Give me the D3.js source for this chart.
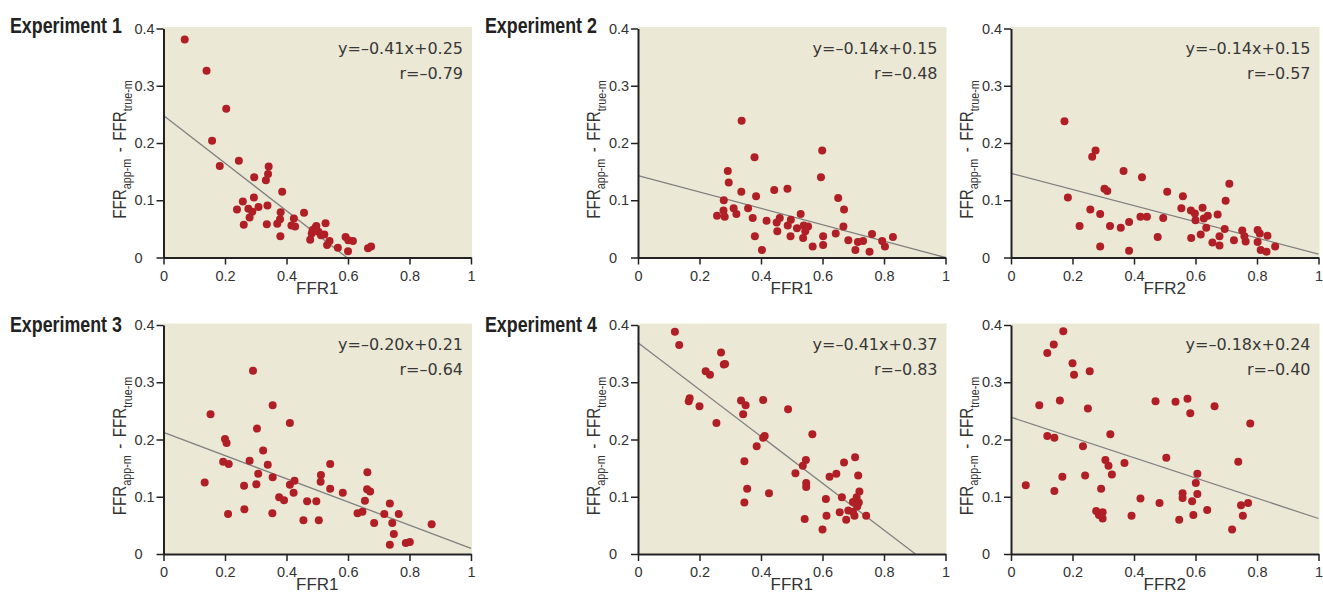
<!DOCTYPE html>
<html>
<head>
<meta charset="utf-8">
<script src="https://cdn.jsdelivr.net/npm/d3@7"></script>
<style>
  body { margin: 0; background: #fff; }
  svg { display: block; }
</style>
</head>
<body>
<svg width="1323" height="594"></svg>
<script>
// values: x = FFR, y = FFRapp-m - FFRtrue-m
var exp1ffr1 = [0.069,0.140,0.204,0.158,0.183,0.245,0.342,0.340,0.333,0.295,0.386,0.294,0.258,0.239,0.276,0.289,0.280,0.309,0.338,0.261,0.336,0.381,0.379,0.370,0.380,0.457,0.424,0.416,0.428,0.527,0.494,0.485,0.482,0.477,0.504,0.512,0.523,0.540,0.532,0.567,0.592,0.601,0.616,0.600,0.665,0.675,0.497];
var exp1diff = [0.381,0.326,0.260,0.204,0.160,0.169,0.159,0.146,0.135,0.140,0.115,0.105,0.098,0.084,0.085,0.080,0.070,0.088,0.091,0.057,0.058,0.079,0.067,0.059,0.037,0.078,0.068,0.056,0.054,0.060,0.052,0.048,0.042,0.031,0.045,0.039,0.040,0.029,0.022,0.017,0.036,0.030,0.029,0.011,0.016,0.019,0.055];

var exp2ffr1 = [0.337,0.379,0.599,0.595,0.292,0.295,0.336,0.384,0.443,0.486,0.651,0.670,0.279,0.278,0.257,0.282,0.311,0.320,0.358,0.373,0.380,0.403,0.418,0.451,0.461,0.453,0.487,0.497,0.496,0.517,0.529,0.539,0.553,0.544,0.537,0.568,0.602,0.602,0.643,0.668,0.684,0.707,0.715,0.732,0.761,0.753,0.794,0.803,0.829];
var exp2diff1 = [0.239,0.175,0.187,0.140,0.151,0.131,0.115,0.107,0.118,0.120,0.104,0.084,0.100,0.082,0.073,0.071,0.086,0.076,0.086,0.069,0.037,0.013,0.064,0.061,0.069,0.046,0.056,0.066,0.037,0.051,0.076,0.056,0.054,0.046,0.034,0.019,0.037,0.022,0.042,0.054,0.030,0.013,0.027,0.029,0.041,0.010,0.029,0.019,0.036];

var exp2ffr2 = [0.174,0.275,0.264,0.366,0.426,0.710,0.304,0.313,0.508,0.185,0.559,0.698,0.258,0.290,0.223,0.322,0.357,0.384,0.290,0.384,0.421,0.442,0.495,0.477,0.554,0.585,0.598,0.623,0.600,0.627,0.640,0.672,0.635,0.617,0.586,0.655,0.678,0.678,0.695,0.725,0.752,0.759,0.763,0.802,0.809,0.802,0.812,0.831,0.834,0.859];
var exp2diff2 = [0.238,0.187,0.176,0.151,0.140,0.129,0.120,0.116,0.115,0.105,0.107,0.099,0.084,0.076,0.055,0.055,0.052,0.062,0.019,0.012,0.071,0.071,0.069,0.036,0.086,0.082,0.077,0.087,0.065,0.068,0.073,0.075,0.052,0.040,0.034,0.026,0.037,0.021,0.050,0.030,0.047,0.037,0.028,0.048,0.042,0.027,0.013,0.010,0.038,0.019];

var exp3ffr1 = [0.291,0.355,0.153,0.411,0.304,0.200,0.205,0.324,0.194,0.212,0.280,0.339,0.542,0.308,0.355,0.512,0.511,0.663,0.134,0.262,0.302,0.411,0.426,0.423,0.542,0.583,0.662,0.672,0.376,0.392,0.467,0.497,0.655,0.736,0.263,0.210,0.354,0.455,0.505,0.631,0.647,0.718,0.765,0.685,0.744,0.872,0.749,0.736,0.788,0.801];
var exp3diff = [0.320,0.260,0.244,0.229,0.219,0.201,0.194,0.181,0.161,0.157,0.163,0.156,0.157,0.140,0.134,0.138,0.126,0.143,0.125,0.119,0.122,0.121,0.128,0.107,0.114,0.107,0.113,0.109,0.099,0.094,0.092,0.092,0.093,0.088,0.078,0.070,0.071,0.059,0.059,0.071,0.074,0.070,0.070,0.054,0.054,0.052,0.035,0.016,0.019,0.021];

var exp4ffr1 = [0.120,0.134,0.270,0.279,0.283,0.220,0.234,0.168,0.165,0.200,0.255,0.335,0.350,0.342,0.407,0.488,0.567,0.412,0.407,0.386,0.346,0.355,0.346,0.426,0.546,0.536,0.512,0.547,0.547,0.542,0.706,0.670,0.645,0.623,0.716,0.720,0.611,0.663,0.711,0.699,0.718,0.713,0.656,0.684,0.699,0.704,0.613,0.677,0.742,0.600];
var exp4diff1 = [0.388,0.365,0.352,0.331,0.332,0.319,0.313,0.272,0.267,0.258,0.229,0.268,0.260,0.244,0.269,0.253,0.209,0.206,0.203,0.188,0.162,0.114,0.090,0.106,0.164,0.154,0.141,0.124,0.117,0.061,0.169,0.160,0.140,0.135,0.137,0.109,0.096,0.099,0.099,0.091,0.090,0.083,0.073,0.076,0.074,0.067,0.067,0.060,0.067,0.043];

var exp4ffr2 = [0.170,0.139,0.118,0.200,0.205,0.256,0.092,0.159,0.250,0.118,0.141,0.234,0.323,0.048,0.167,0.141,0.241,0.307,0.317,0.328,0.369,0.293,0.277,0.286,0.298,0.298,0.392,0.421,0.483,0.470,0.535,0.574,0.583,0.662,0.778,0.505,0.606,0.601,0.558,0.558,0.606,0.589,0.593,0.547,0.638,0.739,0.748,0.771,0.754,0.719];
var exp4diff2 = [0.389,0.366,0.351,0.333,0.313,0.319,0.260,0.268,0.254,0.206,0.203,0.188,0.209,0.120,0.135,0.110,0.137,0.164,0.154,0.139,0.159,0.114,0.075,0.068,0.073,0.062,0.067,0.097,0.089,0.267,0.266,0.271,0.246,0.258,0.228,0.168,0.140,0.124,0.106,0.098,0.105,0.092,0.068,0.060,0.077,0.161,0.085,0.089,0.067,0.043];

var panelX = [exp1ffr1, exp2ffr1, exp2ffr2, exp3ffr1, exp4ffr1, exp4ffr2];
var panelY = [exp1diff, exp2diff1, exp2diff2, exp3diff, exp4diff1, exp4diff2];
var titles = ["Experiment 1", "Experiment 2", "", "Experiment 3", "Experiment 4", ""];
var xLabels = ["FFR1", "FFR1", "FFR2", "FFR1", "FFR1", "FFR2"];
var equations = ["y=\u20130.41x+0.25", "y=\u20130.14x+0.15", "y=\u20130.14x+0.15", "y=\u20130.20x+0.21", "y=\u20130.41x+0.37", "y=\u20130.18x+0.24"];
var rLabels = ["r=\u20130.79", "r=\u20130.48", "r=\u20130.57", "r=\u20130.64", "r=\u20130.83", "r=\u20130.40"];
// fitted line as drawn (intercept, slope)
var lineIntercept = [0.248, 0.143, 0.147, 0.2125, 0.369, 0.239];
var lineSlope = [-0.416, -0.143, -0.141, -0.2026, -0.409, -0.177];
var xTicks = [0, 0.2, 0.4, 0.6, 0.8, 1];
var yTicks = [0, 0.1, 0.2, 0.3, 0.4];

var svg = d3.select("svg");
var sans = "'Liberation Sans', Arial, sans-serif";
var W = 307.5, H = 229;
var lefts = [163.5, 638, 1011];
var tops = [28.5, 325];

var x = d3.scaleLinear().domain([0, 1]).range([0, W]);
var y = d3.scaleLinear().domain([0, 0.4]).range([H, 0]);

panelX.forEach(function(xs, i) {
    var col = i % 3, row = Math.floor(i / 3);
    var g = svg.append("g").attr("transform", "translate(" + lefts[col] + "," + tops[row] + ")");

    g.append("rect").attr("x", 0).attr("y", -1.5).attr("width", W + 1).attr("height", H + 1.5)
        .style("fill", "#ece8d6");

    // regression line, stops where it reaches 0
    var a = lineIntercept[i], b = lineSlope[i];
    var xEnd = Math.min(1, -a / b);
    g.append("line")
        .attr("x1", x(0)).attr("y1", y(a))
        .attr("x2", x(xEnd)).attr("y2", y(a + b * xEnd))
        .style("stroke", "#808080").style("stroke-width", 1.3);

    var pts = xs.map(function(v, j) { return {x: v, y: panelY[i][j]}; });
    g.selectAll("circle").data(pts).enter().append("circle")
        .attr("cx", function(d) { return x(d.x); })
        .attr("cy", function(d) { return y(d.y); })
        .attr("r", 4)
        .style("fill", "#b01f26");

    var yAxis = g.append("g").call(d3.axisLeft(y).tickValues(yTicks).tickSize(7).tickSizeOuter(0)
        .tickFormat(function(d) { return d === 0 ? "0" : d3.format(".1f")(d); }));
    yAxis.selectAll("text").attr("x", -29).style("text-anchor", "start");

    var xAxis = g.append("g").attr("transform", "translate(0," + H + ")")
        .call(d3.axisBottom(x).tickValues(xTicks).tickSize(7).tickSizeOuter(0).tickPadding(6)
        .tickFormat(function(d) { return (d === 0 || d === 1) ? String(d) : d3.format(".1f")(d); }));

    [xAxis, yAxis].forEach(function(ax) {
        ax.select(".domain").style("stroke", "#222").style("stroke-width", 2);
        ax.selectAll(".tick line").style("stroke", "#222").style("stroke-width", 1.5);
        ax.selectAll("text").style("font-family", sans).style("font-size", "14.5px").style("fill", "#333");
    });

    g.append("text").attr("x", W - 8).attr("y", 25).attr("text-anchor", "end")
        .style("font-family", "'DejaVu Sans', sans-serif").style("font-size", "16px").style("fill", "#383838")
        .text(equations[i]);
    g.append("text").attr("x", W - 8).attr("y", 50).attr("text-anchor", "end")
        .style("font-family", "'DejaVu Sans', sans-serif").style("font-size", "16px").style("fill", "#383838")
        .text(rLabels[i]);

    g.append("text").attr("x", W / 2).attr("y", H + 36).attr("text-anchor", "middle")
        .style("font-family", sans).style("font-size", "17px").style("fill", "#333")
        .text(xLabels[i]);

    // condensed, rotated y label
    var yl = g.append("text").attr("transform", "translate(-38,121) rotate(-90) scale(0.8,1)")
        .attr("text-anchor", "middle")
        .style("font-family", sans).style("font-size", "19px").style("fill", "#333");
    yl.append("tspan").text("FFR");
    yl.append("tspan").attr("dy", 5).style("font-size", "13.5px").text("app-m");
    yl.append("tspan").attr("dy", -5).attr("dx", 8).text("-");
    yl.append("tspan").attr("dx", 8).text("FFR");
    yl.append("tspan").attr("dy", 6).style("font-size", "13.5px").text("true-m");

    if (titles[i]) {
        // bold, squeezed to look condensed
        svg.append("text")
            .attr("transform", "translate(" + (col === 0 ? 10 : 485) + "," + (row === 0 ? 32.7 : 331.7) + ") scale(0.81,1)")
            .style("font-family", sans).style("font-weight", "bold").style("font-size", "22px")
            .style("fill", "#222")
            .text(titles[i]);
    }
});
</script>
</body>
</html>
